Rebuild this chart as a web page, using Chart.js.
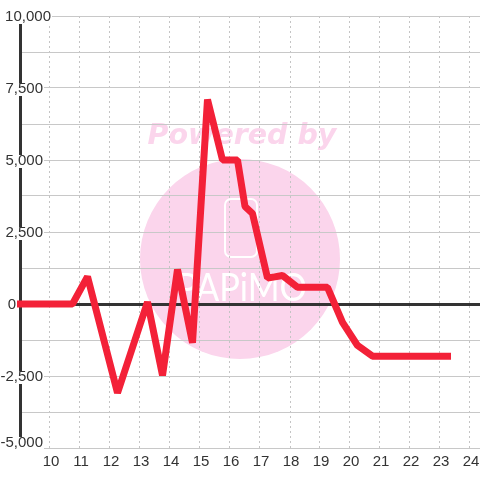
<!DOCTYPE html>
<html>
<head>
<meta charset="utf-8">
<style>
html, body { margin: 0; padding: 0; background: #fff; }
canvas { display: block; }
</style>
<script src="https://cdn.jsdelivr.net/npm/chart.js@4"></script>
</head>
<body>
<canvas id="graph" width="480" height="480"></canvas>
<script>
const hours = [9, 10.75, 11.25, 12.25, 13.25, 13.75, 14.25, 14.75, 15.25, 15.75, 16.25, 16.5, 16.75, 17.25, 17.75, 18.25, 19.25, 19.75, 20.25, 20.75, 23.25];
const balance = [0, 0, 950, -3090, 70, -2480, 1200, -1350, 7100, 5000, 5000, 3385, 3140, 900, 990, 580, 580, -640, -1440, -1810, -1810];
const yTickValues = [10000, 7500, 5000, 2500, 0, -2500, -5000];
const yTickLabels = ['10,000', '7,500', '5,000', '2,500', '0', '-2,500', '-5,000'];

const FONT = '15px "Liberation Sans"';

// pink logo sits under the grid
const watermark = {
    id: 'watermark',
    beforeDraw(chart) {
        const ctx = chart.ctx;
        ctx.save();
        ctx.fillStyle = '#fbd5ec';
        ctx.beginPath();
        ctx.arc(240, 259, 100, 0, Math.PI * 2);
        ctx.fill();

        ctx.font = 'italic bold 28.5px "DejaVu Sans"';
        ctx.textAlign = 'center';
        ctx.textBaseline = 'alphabetic';
        ctx.fillText('Powered by', 242, 144);

        ctx.strokeStyle = '#fff';
        ctx.lineWidth = 2;
        ctx.beginPath();
        ctx.roundRect(225, 199, 32, 58, 6);
        ctx.stroke();

        // stretch the logo text to fit its width in the reference
        ctx.fillStyle = '#fff';
        ctx.font = '400 39px "Lato"';
        ctx.translate(242, 301);
        ctx.scale(0.88, 1);
        ctx.fillText('PAPiMO', 0, 0);
        ctx.restore();
    }
};

// the dark left axis is solid though the other vertical lines are dashed
const leftAxis = {
    id: 'leftAxis',
    beforeDatasetsDraw(chart) {
        const ctx = chart.ctx;
        const a = chart.chartArea;
        ctx.save();
        ctx.strokeStyle = '#333';
        ctx.lineWidth = 3;
        ctx.beginPath();
        ctx.moveTo(a.left + 0.5, a.top);
        ctx.lineTo(a.left + 0.5, a.bottom);
        ctx.stroke();
        ctx.restore();
    }
};

// y labels have a white box behind them which cuts the axis and the grid
const yLabels = {
    id: 'yLabels',
    afterDraw(chart) {
        const ctx = chart.ctx;
        const y = chart.scales.y;
        ctx.save();
        ctx.font = FONT;
        ctx.textAlign = 'right';
        ctx.textBaseline = 'middle';
        yTickValues.forEach((v, i) => {
            let right = 43;
            if (v === 10000) right = 51;
            if (v === 0) right = 16;
            let py = y.getPixelForValue(v) + 0.5;
            if (v === -5000) py -= 6;
            const w = ctx.measureText(yTickLabels[i]).width;
            ctx.fillStyle = '#fff';
            ctx.fillRect(right - w - 1, py - 5.5, w + 2, 13);
            ctx.fillStyle = '#333';
            ctx.fillText(yTickLabels[i], right, py);
        });
        ctx.restore();
    }
};

new Chart(document.getElementById('graph'), {
    type: 'line',
    data: {
        datasets: [
            {
                data: hours.map((h, i) => ({ x: h, y: balance[i] })),
                borderColor: '#f32138',
                borderWidth: 7,
                borderCapStyle: 'square',
                borderJoinStyle: 'bevel',
                pointRadius: 0,
                tension: 0,
                clip: false,
            }
        ]
    },
    options: {
        responsive: false,
        animation: false,
        layout: { padding: { left: 20, top: 16, right: 0, bottom: 0 } },
        plugins: {
            legend: { display: false },
            tooltip: { enabled: false },
        },
        scales: {
            x: {
                type: 'linear',
                min: 9,
                max: 9 + 460 / 30,
                afterFit(scale) { scale.height = 32; scale.paddingRight = 0; scale.paddingLeft = 0; },
                border: { display: false, dash: [2, 3] },
                grid: {
                    drawTicks: false,
                    color: '#c4c4c4',
                },
                ticks: {
                    stepSize: 1,
                    includeBounds: false,
                    autoSkip: false,
                    maxRotation: 0,
                    padding: 5,
                    labelOffset: 1,
                    color: '#333',
                    font: { family: 'Liberation Sans', size: 15 },
                    callback: v => v >= 10 ? String(v) : '',
                },
            },
            y: {
                min: -5000,
                max: 10000,
                afterFit(scale) { scale.width = 0; },
                border: { display: false },
                grid: {
                    drawTicks: false,
                    color: ctx => ctx.tick.value === 0 ? '#333' : '#c8c8c8',
                    lineWidth: ctx => ctx.tick.value === 0 ? 3 : 1,
                },
                ticks: { stepSize: 1250, display: false },
            },
        },
    },
    plugins: [watermark, leftAxis, yLabels],
});
</script>
</body>
</html>
